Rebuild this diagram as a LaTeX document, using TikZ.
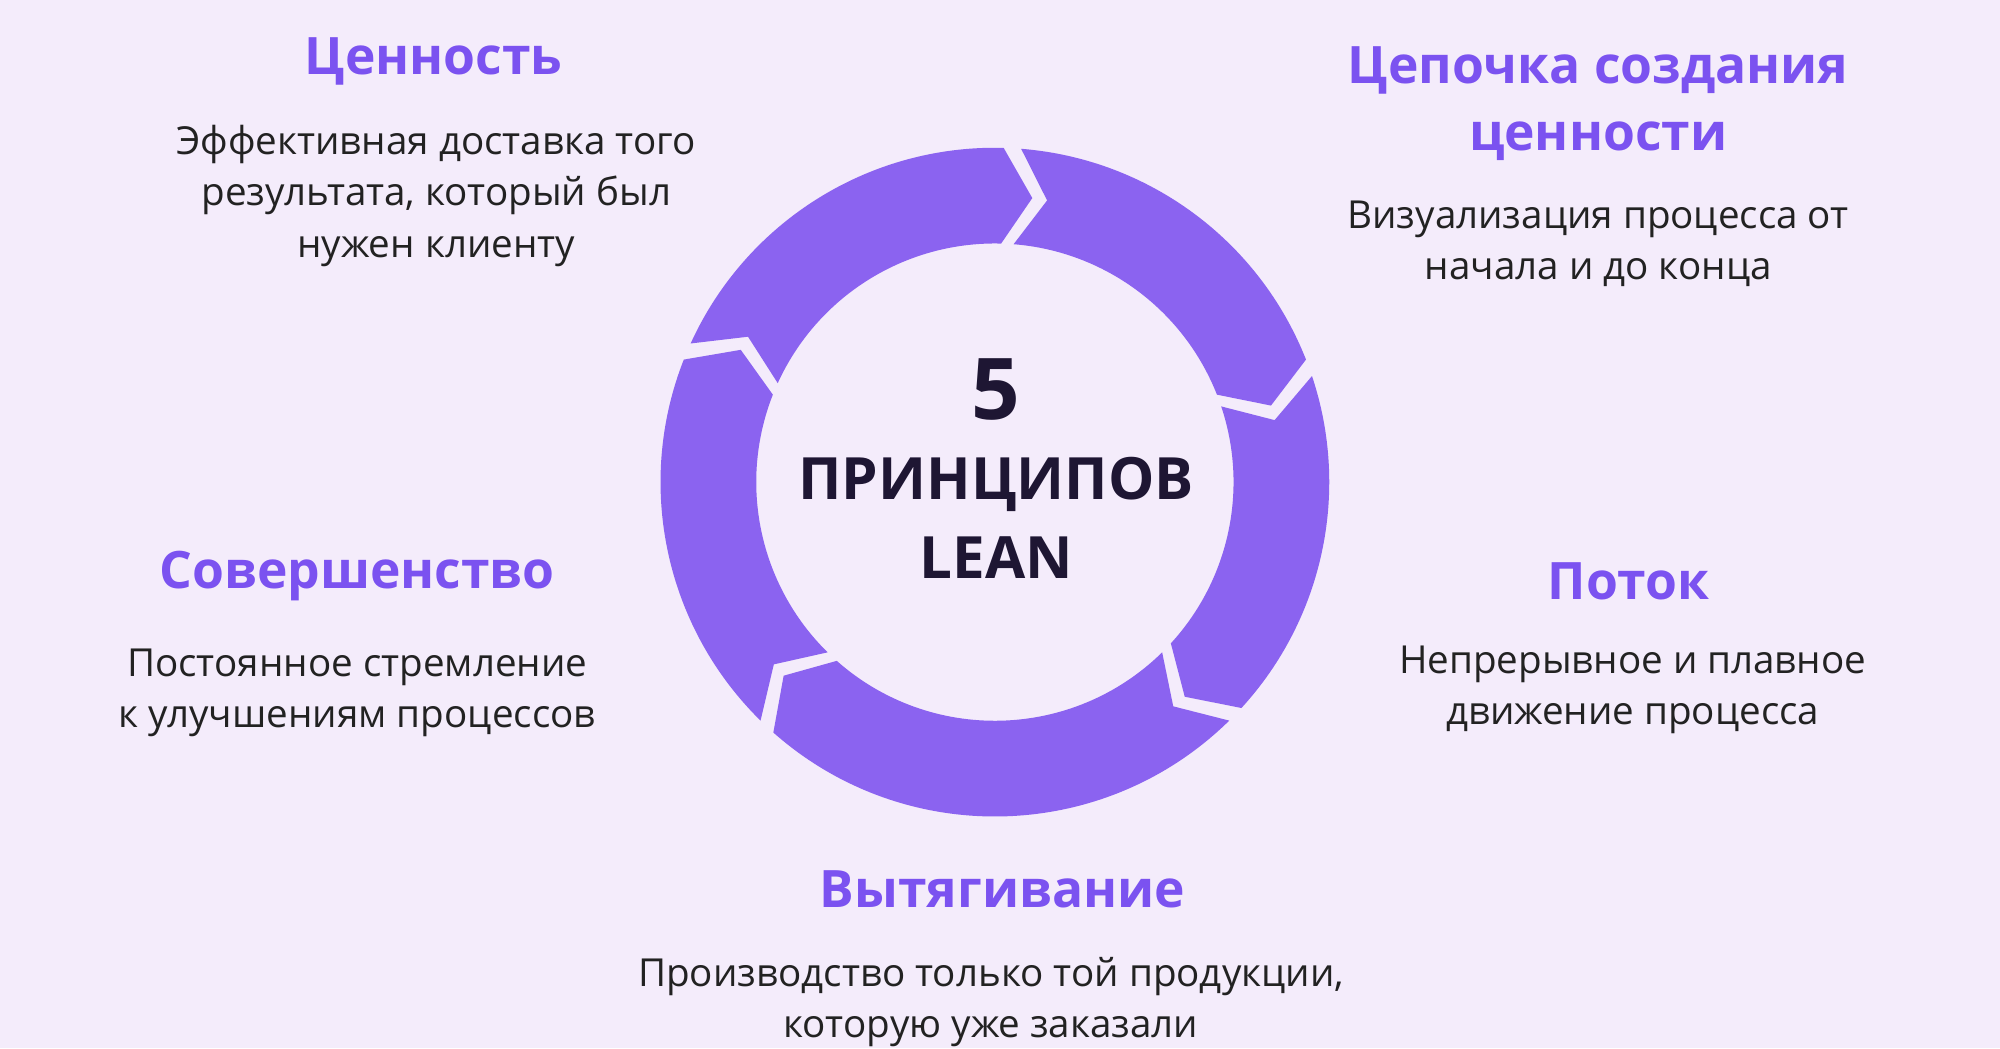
\documentclass[tikz,border=0pt]{standalone}
\usepackage{fontspec}
\setmainfont{Open Sans}
\definecolor{bg}{HTML}{F4ECFB}
\definecolor{seg}{HTML}{8B63F0}
\definecolor{head}{HTML}{7B52F0}
\definecolor{dark}{HTML}{1E1633}
\definecolor{body}{HTML}{222222}
\begin{document}
\begin{tikzpicture}[x=0.01cm,y=0.01cm,
  heading/.style={text=head,font=\fontsize{11.5}{13}\selectfont\bfseries,align=center},
  bodytext/.style={text=body,font=\fontsize{8.6}{11.4}\selectfont,align=center},
  center/.style={text=dark,font=\fontsize{13}{16}\selectfont\bfseries,align=center}]
\fill[bg] (0,0) rectangle (1568,-822);
\useasboundingbox (0,0) rectangle (1568,-822);
\begin{scope}[shift={(780,-378)}]
\foreach \s/\e in {155.5/88.5, 85.5/21.5, 18.5/-42.5, -45.5/-131.5, -134.5/-201.5}{
  \fill[seg] (\s:2.62cm) arc[start angle=\s, end angle=\e, radius=2.62cm]
    -- (\e-6:2.245cm) -- (\e:1.87cm)
    arc[start angle=\e, end angle=\s, radius=1.87cm]
    -- (\s-6:2.245cm) -- cycle;
}
\end{scope}
\node[center,font=\fontsize{19}{22}\selectfont\bfseries] (five) at (781,-305) {5};
\node[center] (pr) at (781,-380) {ПРИНЦИПОВ};
\node[center] (lean) at (781,-437) {LEAN};

\node[heading] (h1) at (340,-48) {Ценность};
\node[bodytext,anchor=north] (b1) at (342,-86) {Эффективная доставка того\\результата, который был\\нужен клиенту};
\node[heading,font=\fontsize{11.5}{15}\selectfont\bfseries] (h2) at (1253,-81) {Цепочка создания\\ценности};
\node[bodytext,anchor=north] (b2) at (1253,-145) {Визуализация процесса от\\начала и до конца};
\node[heading] (h3) at (280,-452) {Совершенство};
\node[bodytext,anchor=north] (b3) at (280,-496) {Постоянное стремление\\к улучшениям процессов};
\node[heading] (h4) at (1277,-456) {Поток};
\node[bodytext,anchor=north] (b4) at (1280,-494) {Непрерывное и плавное\\движение процесса};
\node[heading] (h5) at (786,-697) {Вытягивание};
\node[bodytext,anchor=north] (b5) at (777,-738) {Производство только той продукции,\\которую уже заказали};
\end{tikzpicture}
\end{document}
